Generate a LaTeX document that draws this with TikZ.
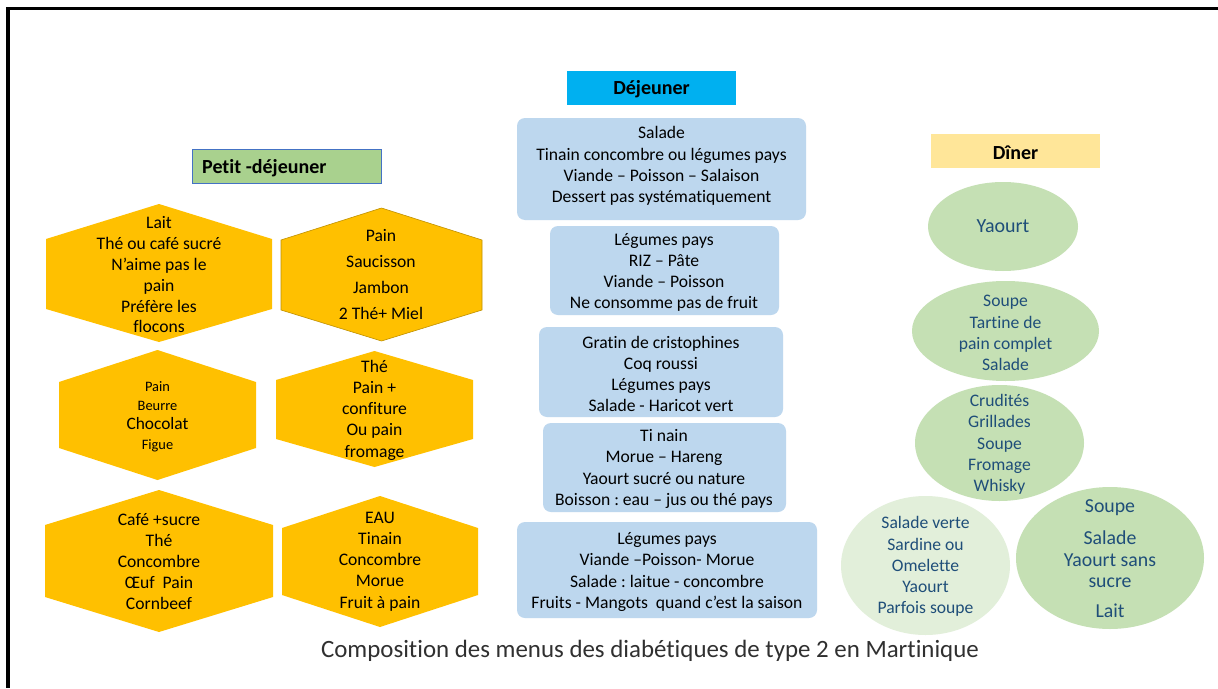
\documentclass[tikz,border=0pt]{standalone}
\usepackage{fontspec}
\setmainfont{Carlito}[Ligatures=NoCommon]
\frenchspacing
\definecolor{hexfill}{HTML}{FFC000}
\definecolor{hexline}{HTML}{BF9000}
\definecolor{boxblue}{HTML}{BDD7EE}
\definecolor{titgreen}{HTML}{A9D18E}
\definecolor{titline}{HTML}{4472C4}
\definecolor{titblue}{HTML}{00B0F0}
\definecolor{tityellow}{HTML}{FFE699}
\definecolor{ellgreen}{HTML}{C5E0B4}
\definecolor{ellpale}{HTML}{E2EFDA}
\definecolor{elltext}{HTML}{1F4E79}
\definecolor{captext}{HTML}{303030}
\begin{document}
\begin{tikzpicture}[x=1pt,y=-1pt,
  txt/.style={align=center,inner sep=0pt,font=\fontsize{17.6}{21.2}\selectfont},
  dtxt/.style={txt,text=elltext},
  titletxt/.style={inner sep=0pt,font=\fontsize{20}{22}\selectfont\bfseries},
  blbox/.style={fill=boxblue,rounded corners=8pt},
]
\useasboundingbox (0,0) rectangle (1218,688);
\fill[white] (0,0) rectangle (1218,688);
% frame
\fill[black] (6,7) rectangle (1218,10);
\fill[black] (6,7) rectangle (10,688);

% ---- Petit-déjeuner ----
\filldraw[fill=titgreen,draw=titline,line width=0.8pt] (192,149) rectangle (381,183);
\node[titletxt,anchor=west] (tpd) at (202,168) {Petit -déjeuner};

\fill[hexfill] (159,204) -- (272,239) -- (272,309) -- (159,342) -- (46,309) -- (46,239) -- cycle;
\node[txt,font=\fontsize{17.6}{20.8}\selectfont] (h1) at (159,275) {Lait\\Thé ou café sucré\\N’aime pas le\\pain\\Préfère les\\flocons};

\filldraw[fill=hexfill,draw=hexline,line width=0.6pt] (381.5,208) -- (482,240) -- (482,310) -- (381.5,341) -- (281,310) -- (281,240) -- cycle;
\node[txt,font=\fontsize{17.6}{26}\selectfont] (h2) at (381,275) {Pain\\Saucisson\\Jambon\\2 Thé+ Miel};

\fill[hexfill] (157.5,350) -- (256,382) -- (256,448) -- (157.5,480) -- (59,448) -- (59,382) -- cycle;
\node[txt,font=\fontsize{14.4}{19.3}\selectfont] (h3) at (157.5,416.5) {Pain\\Beurre\\{\fontsize{17.4}{19.3}\selectfont Chocolat}\\Figue};

\fill[hexfill] (374.5,351) -- (473,380) -- (473,439) -- (374.5,467) -- (276,439) -- (276,380) -- cycle;
\node[txt] (h4) at (374.5,410) {Thé\\Pain +\\confiture\\Ou pain\\fromage};

\fill[hexfill] (159,490) -- (273,525) -- (273,597) -- (159,632) -- (45,597) -- (45,525) -- cycle;
\node[txt] (h5) at (159,561.5) {Café +sucre\\Thé\\Concombre\\Œuf\ \ Pain\\Cornbeef};

\fill[hexfill] (380,496) -- (478,528) -- (478,595) -- (380,627) -- (282,595) -- (282,528) -- cycle;
\node[txt] (h6) at (380,561.5) {EAU\\Tinain\\Concombre\\Morue\\Fruit à pain};

% ---- Déjeuner ----
\fill[titblue] (567,71) rectangle (736,105);
\node[titletxt] (tdj) at (651.5,89.5) {Déjeuner};

\fill[blbox] (517,118) rectangle (806,220);
\node[txt] (b1) at (661.5,166) {Salade\\Tinain concombre ou légumes pays\\Viande – Poisson – Salaison\\Dessert pas systématiquement};
\fill[blbox] (550,226) rectangle (779,315);
\node[txt] (b2) at (664,272.5) {Légumes pays\\RIZ – Pâte\\Viande – Poisson\\Ne consomme pas de fruit};
\fill[blbox] (539,327) rectangle (783,417);
\node[txt] (b3) at (661,374) {Gratin de cristophines\\Coq roussi\\Légumes pays\\Salade - Haricot vert};
\fill[blbox] (543,423) rectangle (786,512);
\node[txt] (b4) at (664,469) {Ti nain\\Morue – Hareng\\Yaourt sucré ou nature\\Boisson : eau – jus ou thé pays};
\fill[blbox] (517,522) rectangle (817,618);
\node[txt] (b5) at (667,572) {Légumes pays\\Viande –Poisson- Morue\\Salade : laitue - concombre\\Fruits - Mangots\ \ quand c’est la saison};

% ---- Dîner ----
\fill[tityellow] (931,134) rectangle (1100,168);
\node[titletxt] (tdi) at (1015.5,152.5) {Dîner};

\fill[ellgreen] (1003,226.5) ellipse [x radius=75pt, y radius=44.5pt];
\node[dtxt,font=\fontsize{20}{22}\selectfont] (e1) at (1003,226.5) {Yaourt};

\fill[ellgreen] (1005.5,331) ellipse [x radius=93.5pt, y radius=50pt];
\node[dtxt] (e2) at (1005.5,333) {Soupe\\Tartine de\\pain complet\\Salade};

\fill[ellgreen] (999.5,443) ellipse [x radius=84.5pt, y radius=58pt];
\node[dtxt] (e3) at (999.5,444.5) {Crudités\\Grillades\\Soupe\\Fromage\\Whisky};

\fill[ellpale] (925.5,565.5) ellipse [x radius=84.5pt, y radius=69.5pt];
\node[dtxt] (e4) at (925.5,566.5) {Salade verte\\Sardine ou\\Omelette\\Yaourt\\Parfois soupe};

\fill[ellgreen] (1110,558) ellipse [x radius=94pt, y radius=71pt];
\node[dtxt,font=\fontsize{19.8}{21.5}\selectfont] (e5) at (1110,558.5) {Soupe\\[11pt]Salade\\Yaourt sans\\sucre\\[8.5pt]Lait};

% ---- caption ----
\node[inner sep=0pt,text=captext,font=\fontsize{24.9}{28}\selectfont] (cap) at (650,651) {Composition des menus des diabétiques de type 2 en Martinique};
\end{tikzpicture}
\end{document}
